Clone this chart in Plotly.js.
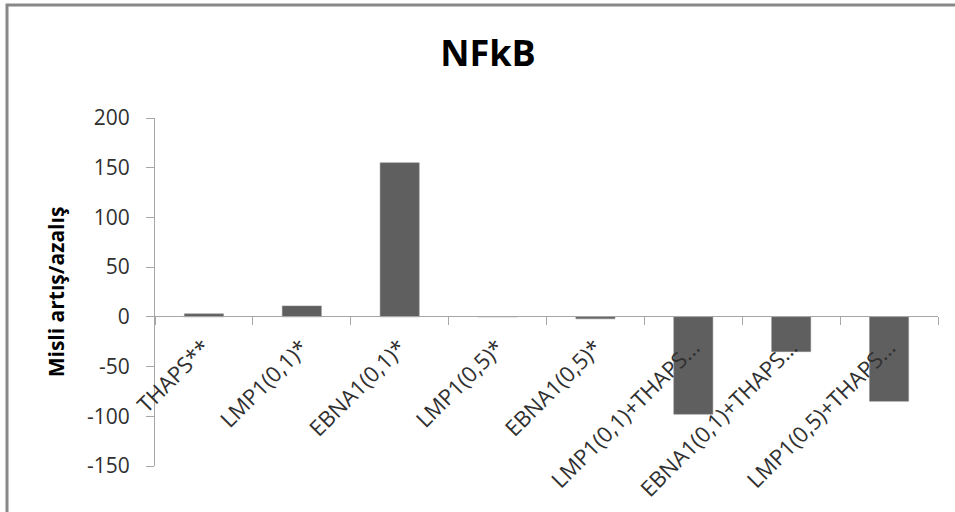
<!DOCTYPE html>
<html>
<head>
<meta charset="utf-8">
<script src="https://cdn.plot.ly/plotly-3.0.1.min.js"></script>
<style>html,body{margin:0;padding:0;background:#fff;}#chart{width:955px;height:512px;}</style>
</head>
<body>
<div id="chart"></div>
<script>
var categories = ["THAPS**", "LMP1(0,1)*", "EBNA1(0,1)*", "LMP1(0,5)*", "EBNA1(0,5)*", "LMP1(0,1)+THAPS...", "EBNA1(0,1)+THAPS...", "LMP1(0,5)+THAPS..."];
var values = [3, 11, 155, 0.3, -2, -98, -35, -85];
var yTicks = [-150, -100, -50, 0, 50, 100, 150, 200];

var fontFam = "'Open Sans', sans-serif";
var trace = {
  type: "bar",
  x: categories,
  y: values,
  marker: {color: "#5f5f5f", line: {color: "#8a8a8a", width: 0.5}},
  hoverinfo: "x+y"
};

var layout = {
  width: 955,
  height: 512,
  margin: {l: 155, r: 17, t: 118, b: 46},
  paper_bgcolor: "#ffffff",
  plot_bgcolor: "#ffffff",
  showlegend: false,
  bargap: 0.6,
  font: {family: fontFam, color: "#303030"},
  title: {
    text: "<b>NFkB</b>",
    font: {family: fontFam, size: 36, color: "#000000"},
    x: 0.511, xref: "container", xanchor: "center",
    y: 1 - 41 / 512, yref: "container", yanchor: "top"
  },
  xaxis: {
    type: "category",
    anchor: "free",
    position: 150 / 348,
    showline: true,
    linecolor: "#a6a6a6",
    linewidth: 1,
    ticks: "outside",
    tickson: "boundaries",
    ticklen: 8,
    tickcolor: "#a6a6a6",
    tickangle: -45,
    ticklabelstandoff: 9,
    tickfont: {family: fontFam, size: 22, color: "#303030"},
    showgrid: false,
    zeroline: false
  },
  yaxis: {
    range: [-150, 200],
    tickvals: yTicks,
    ticktext: yTicks.map(String),
    showline: true,
    linecolor: "#a6a6a6",
    linewidth: 1,
    ticks: "outside",
    ticklen: 8,
    tickcolor: "#a6a6a6",
    ticklabelstandoff: 12,
    tickfont: {family: fontFam, size: 21, color: "#303030"},
    showgrid: false,
    zeroline: false,
    title: {
      text: "<b>Misli artış/azalış</b>",
      font: {family: fontFam, size: 21, color: "#000000"},
      standoff: 16
    }
  },
  shapes: [{
    type: "rect",
    xref: "paper", yref: "paper",
    x0: (7 - 155) / 783, x1: (962 - 155) / 783,
    y0: (466 - 525) / 348, y1: (466 - 5) / 348,
    line: {color: "#888888", width: 3},
    fillcolor: "rgba(0,0,0,0)",
    layer: "below"
  }]
};

Plotly.newPlot("chart", [trace], layout, {displayModeBar: false, staticPlot: true});
</script>
</body>
</html>
